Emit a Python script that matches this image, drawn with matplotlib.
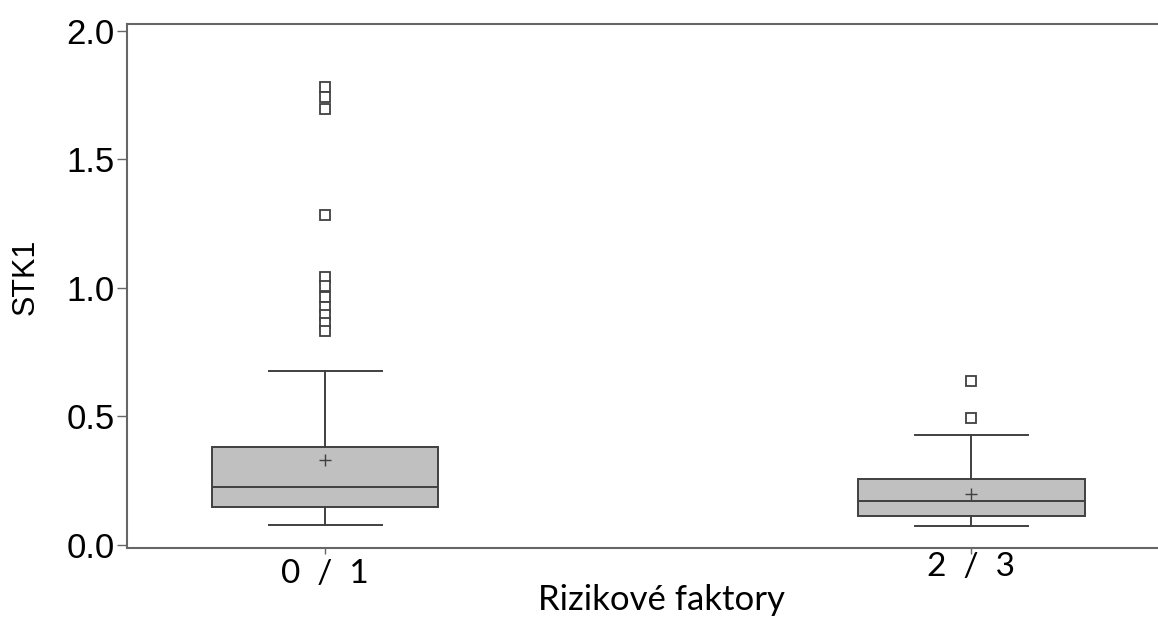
import matplotlib
matplotlib.use("Agg")
import matplotlib.pyplot as plt

# Summary statistics of STK1 per risk-factor group
groups = ["0  /  1", "2  /  3"]
whisker_low = [0.078, 0.073]
q1 = [0.147, 0.112]
median = [0.2245, 0.170]
q3 = [0.380, 0.257]
whisker_high = [0.677, 0.428]
mean = [0.331, 0.200]
outliers = [
    [1.783, 1.744, 1.695, 1.284, 1.044, 1.008, 0.964, 0.927, 0.895, 0.863, 0.833],
    [0.639, 0.495],
]

stats = [
    dict(label=g, whislo=wl, q1=a, med=m, q3=b, whishi=wh, mean=mu, fliers=fl)
    for g, wl, a, m, b, wh, mu, fl in zip(groups, whisker_low, q1, median, q3,
                                          whisker_high, mean, outliers)
]

edge = "#404040"
fig = plt.figure(figsize=(11.58, 6.19), dpi=100)
ax = fig.add_axes([127 / 1158, 1 - 548 / 619, 1 - 127 / 1158, (548 - 24) / 619])

ax.bxp(
    stats,
    positions=[1, 2],
    widths=0.351,
    capwidths=0.175,
    patch_artist=True,
    showmeans=True,
    boxprops=dict(facecolor="#c0c0c0", edgecolor=edge, linewidth=1.4),
    medianprops=dict(color=edge, linewidth=1.4),
    whiskerprops=dict(color=edge, linewidth=1.4),
    capprops=dict(color=edge, linewidth=1.4),
    meanprops=dict(marker="+", markeredgecolor=edge, markersize=8, markeredgewidth=1.0),
    flierprops=dict(marker="s", markerfacecolor="white", markeredgecolor=edge,
                    markersize=6.5, markeredgewidth=1.3),
)

ax.set_xlim(0.6935, 2.289)
ax.set_ylim(-0.012, 2.027)
ax.set_yticks([0.0, 0.5, 1.0, 1.5, 2.0])
ax.set_yticklabels(["0.0", "0.5", "1.0", "1.5", "2.0"],
                   family="Liberation Sans", fontsize=25)

ax.set_xticks([1, 2])
ax.set_xticklabels([])
ax.tick_params(axis="x", length=4, width=1, color="#666666", direction="out")
ax.tick_params(axis="y", length=7, width=1, color="#666666", direction="out", pad=2)

ax.spines["right"].set_visible(False)
for side in ("left", "top", "bottom"):
    ax.spines[side].set_color("#666666")
    ax.spines[side].set_linewidth(1.5)

# Group labels placed below the axis
ax.text(1, -0.112, groups[0], ha="center", va="center", family="Lato",
        fontsize=24, transform=ax.transData, clip_on=False)
ax.text(2, -0.085, groups[1], ha="center", va="center", family="Lato",
        fontsize=24, transform=ax.transData, clip_on=False)

fig.text(661 / 1158, 1 - 600 / 619, "Rizikové faktory", ha="center", va="center",
         family="Lato", fontsize=25)
fig.text(26 / 1158, 1 - 277 / 619, "STK1", ha="center", va="center",
         rotation=90, family="Liberation Sans", fontsize=22)

fig.savefig("out.png", dpi=100, facecolor="white")
